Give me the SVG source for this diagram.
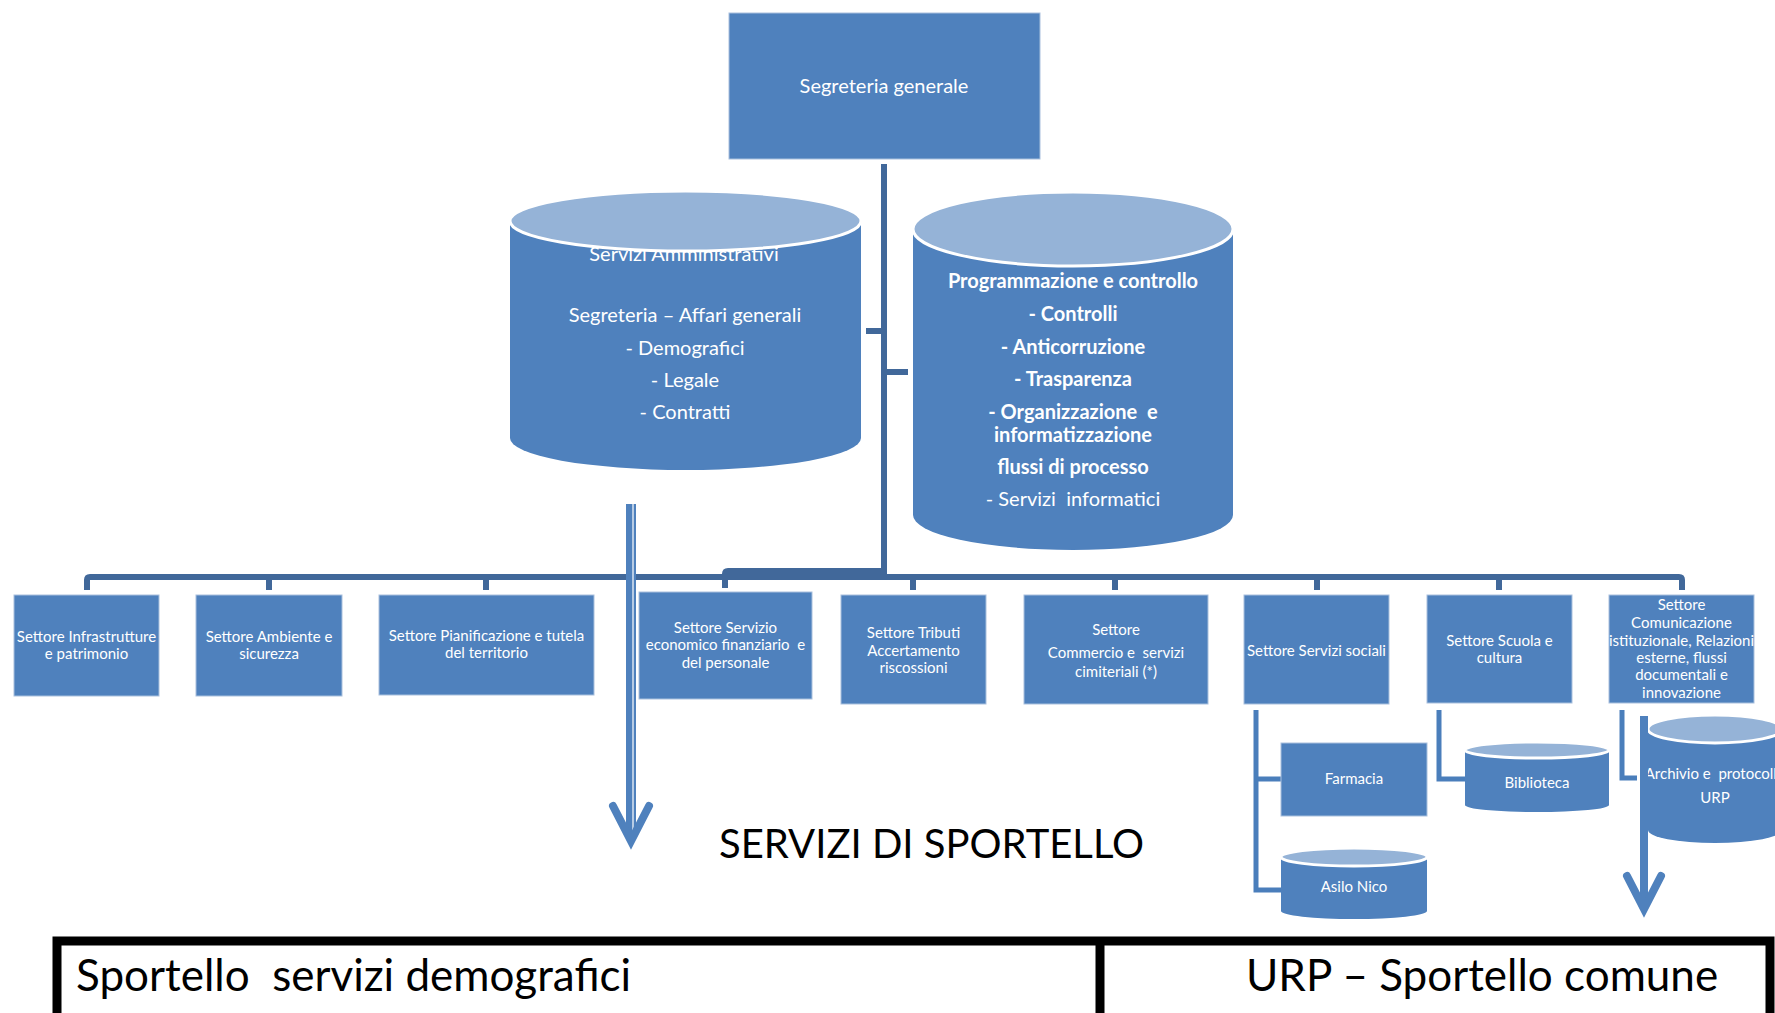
<svg xmlns="http://www.w3.org/2000/svg" width="1775" height="1013" viewBox="0 0 1775 1013" xml:space="preserve">
<defs>
<style>
.box{fill:#4F81BD;stroke:#A9C0DD;stroke-width:1}
.body{fill:#4F81BD}
.top{fill:#95B3D7;stroke:#FFFFFF;stroke-width:3}
.bus{stroke:#41689A;stroke-width:6;fill:none}
.sub{stroke:#4A7EBB;stroke-width:5;fill:none}
.t{font-family:"Lato","Open Sans",sans-serif;fill:#FFFFFF;text-anchor:middle;white-space:pre}
.s{font-size:15px}
.m{font-size:20px}
.b{font-weight:bold}
.k{font-family:"Lato","Open Sans",sans-serif;fill:#000000;white-space:pre}
</style>
</defs>
<rect width="1775" height="1013" fill="#FFFFFF"/>

<g id="connectors">
<path class="bus" d="M884,164 V577"/>
<path class="bus" d="M866,331 H884 M884,372 H908"/>
<path class="bus" d="M87,590 V580 Q87,577 90,577 H1679 Q1682,577 1682,580 V590"/>
<path class="bus" d="M884,571 H728 Q725,571 725,574 V588"/>
<path class="bus" d="M269,577 V590 M486,577 V590 M913,577 V590 M1115,577 V590 M1317,577 V590 M1499,577 V590"/>
<path class="sub" d="M1256,710 V890 H1281 M1256,779 H1281"/>
<path class="sub" d="M1439,710 V779 H1465"/>
<path class="sub" d="M1622,710 V778 H1637"/>
</g>

<g id="segreteria-generale">
<rect class="box" x="729" y="13" width="311" height="146"/>
<text class="t m" x="884" y="93">Segreteria generale</text>
</g>

<g id="servizi-amministrativi">
<path class="body" d="M510,222 V438 A175.5,32 0 0 0 861,438 V222 Z"/>
<text class="t m" x="684" y="261">Servizi Amministrativi</text>
<ellipse class="top" cx="685.5" cy="221" rx="175.5" ry="30"/>
<text class="t m" x="685" y="322">Segreteria – Affari generali</text>
<text class="t m" x="685" y="355">- Demografici</text>
<text class="t m" x="685" y="387">- Legale</text>
<text class="t m" x="685" y="419">- Contratti</text>
</g>

<g id="programmazione">
<path class="body" d="M913,229 V515 A160,35 0 0 0 1233,515 V229 Z"/>
<ellipse class="top" cx="1073" cy="229" rx="160" ry="37"/>
<text class="t m b" x="1073" y="288">Programmazione e controllo</text>
<text class="t m b" x="1073" y="321">- Controlli</text>
<text class="t m b" x="1073" y="354">- Anticorruzione</text>
<text class="t m b" x="1073" y="386">- Trasparenza</text>
<text class="t m b" x="1073" y="419">- Organizzazione  e</text>
<text class="t m b" x="1073" y="442">informatizzazione</text>
<text class="t m b" x="1073" y="474">flussi di processo</text>
<text class="t m" x="1073" y="506">- Servizi  informatici</text>
</g>

<g id="settore-infrastrutture">
<rect class="box" x="14" y="595" width="145" height="101"/>
<text class="t s" x="86.5" y="642">Settore Infrastrutture</text>
<text class="t s" x="86.5" y="659">e patrimonio</text>
</g>
<g id="settore-ambiente">
<rect class="box" x="196" y="595" width="146" height="101"/>
<text class="t s" x="269" y="642">Settore Ambiente e</text>
<text class="t s" x="269" y="659">sicurezza</text>
</g>
<g id="settore-pianificazione">
<rect class="box" x="379" y="595" width="215" height="100"/>
<text class="t s" x="486.5" y="641">Settore Pianificazione e tutela</text>
<text class="t s" x="486.5" y="658">del territorio</text>
</g>
<g id="settore-economico">
<rect class="box" x="639" y="592" width="173" height="107"/>
<text class="t s" x="725.5" y="633">Settore Servizio</text>
<text class="t s" x="725.5" y="650">economico finanziario  e</text>
<text class="t s" x="725.5" y="668">del personale</text>
</g>
<g id="settore-tributi">
<rect class="box" x="841" y="595" width="145" height="109"/>
<text class="t s" x="913.5" y="638">Settore Tributi</text>
<text class="t s" x="913.5" y="656">Accertamento</text>
<text class="t s" x="913.5" y="673">riscossioni</text>
</g>
<g id="settore-commercio">
<rect class="box" x="1024" y="595" width="184" height="109"/>
<text class="t s" x="1116" y="635">Settore</text>
<text class="t s" x="1116" y="658">Commercio e  servizi</text>
<text class="t s" x="1116" y="677">cimiteriali (*)</text>
</g>
<g id="settore-sociali">
<rect class="box" x="1244" y="595" width="145" height="109"/>
<text class="t s" x="1316.5" y="656">Settore Servizi sociali</text>
</g>
<g id="settore-scuola">
<rect class="box" x="1427" y="595" width="145" height="108"/>
<text class="t s" x="1499.5" y="646">Settore Scuola e</text>
<text class="t s" x="1499.5" y="663">cultura</text>
</g>
<g id="settore-comunicazione">
<rect class="box" x="1609" y="595" width="145" height="108"/>
<text class="t s" x="1681.5" y="610">Settore</text>
<text class="t s" x="1681.5" y="628">Comunicazione</text>
<text class="t s" x="1681.5" y="646" font-size="14.5">istituzionale, Relazioni</text>
<text class="t s" x="1681.5" y="663">esterne, flussi</text>
<text class="t s" x="1681.5" y="680">documentali e</text>
<text class="t s" x="1681.5" y="698">innovazione</text>
</g>

<g id="farmacia">
<rect class="box" x="1281" y="743" width="146" height="73"/>
<text class="t s" x="1354" y="784">Farmacia</text>
</g>
<g id="asilo-nico">
<path class="body" d="M1281,857 V911 A73,8 0 0 0 1427,911 V857 Z"/>
<ellipse class="top" cx="1354" cy="857" rx="73" ry="9"/>
<text class="t s" x="1354" y="892">Asilo Nico</text>
</g>
<g id="biblioteca">
<path class="body" d="M1465,750 V805 A72,7 0 0 0 1609,805 V750 Z"/>
<ellipse class="top" cx="1537" cy="750" rx="72" ry="8"/>
<text class="t s" x="1537" y="788">Biblioteca</text>
</g>
<g id="archivio">
<path class="body" d="M1648,729 V830 A67,13 0 0 0 1782,830 V729 Z"/>
<ellipse class="top" cx="1715" cy="729" rx="67" ry="14"/>
<text class="t s" x="1715" y="779">Archivio e  protocollo</text>
<text class="t s" x="1715" y="803">URP</text>
</g>

<g id="arrows">
<path d="M631,504 V838" stroke="#4F81BD" stroke-width="10" fill="none"/>
<path d="M633,504 V836" stroke="#FFFFFF" stroke-width="1.2" fill="none"/>
<path d="M613,806 L631,841 L649,806" stroke="#4F81BD" stroke-width="8" fill="none" stroke-linecap="round" stroke-linejoin="miter"/>
<path d="M1644,716 V905" stroke="#4F81BD" stroke-width="8" fill="none"/>
<path d="M1627,876 L1644,909 L1661,876" stroke="#4F81BD" stroke-width="8" fill="none" stroke-linecap="round" stroke-linejoin="miter"/>
</g>

<g id="sportello-title">
<text class="k" x="719" y="858" font-size="40">SERVIZI DI SPORTELLO</text>
</g>

<g id="sportelli">
<path d="M57,1013 V941 H1770 V1013 M1100,941 V1013" stroke="#000000" stroke-width="9" fill="none"/>
<text class="k" x="76" y="991" font-size="44">Sportello  servizi demografici</text>
<text class="k" x="1246" y="991" font-size="44">URP – Sportello comune</text>
</g>
</svg>
